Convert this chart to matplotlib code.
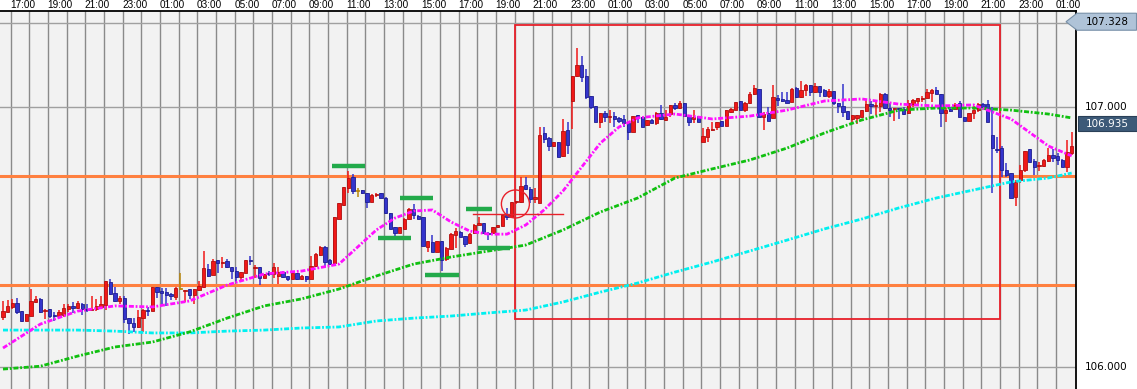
import matplotlib
matplotlib.use("Agg")
import matplotlib.pyplot as plt
from matplotlib.patches import Rectangle, Ellipse, Polygon
from matplotlib.transforms import blended_transform_factory
import numpy as np

# ---------------- data (15-minute candles) ----------------
opens = [106.194,106.213,106.232,106.246,106.214,106.178,106.197,106.251,106.262,106.217,
         106.223,106.196,106.197,106.201,106.223,106.235,106.228,106.242,106.223,106.218,
         106.223,106.232,106.238,106.326,106.283,106.254,106.264,106.187,106.168,106.155,
         106.187,106.218,106.217,106.309,106.292,106.287,106.281,106.271,106.299,106.291,
         106.299,106.278,106.296,106.309,106.377,106.355,106.412,106.399,106.406,106.386,
         106.371,106.347,106.363,106.410,106.380,106.383,106.344,106.360,106.356,106.351,
         106.367,106.350,106.340,106.360,106.340,106.350,106.340,106.388,106.431,106.462,
         106.412,106.399,106.570,106.623,106.688,106.732,106.678,106.681,106.668,106.636,
         106.662,106.668,106.651,106.591,106.538,106.517,106.532,106.568,106.606,106.582,
         106.577,106.462,106.481,106.444,106.486,106.414,106.455,106.509,106.518,106.504,
         106.477,106.514,106.545,106.555,106.517,106.517,106.537,106.542,106.585,106.578,
         106.633,106.636,106.700,106.685,106.647,106.630,106.899,106.879,106.851,106.865,
         106.813,106.911,107.024,107.120,107.161,107.119,107.042,107.004,106.944,106.976,
         106.962,106.964,106.958,106.953,106.937,106.905,106.968,106.963,106.930,106.950,
         106.940,106.976,106.950,106.973,107.006,106.996,107.014,106.965,106.953,106.960,
         106.867,106.883,106.913,106.924,106.946,106.928,106.981,106.987,107.023,106.988,
         107.017,107.049,107.068,106.960,106.976,106.959,107.035,107.031,107.027,107.020,
         107.072,107.037,107.065,107.085,107.059,107.081,107.065,107.042,107.062,107.017,
         107.004,106.983,106.955,106.958,106.963,106.986,107.012,107.004,107.005,107.050,
         106.997,106.991,106.995,106.992,106.976,107.012,107.024,107.032,107.036,107.055,
         107.065,107.050,106.978,106.991,106.991,107.014,106.963,106.947,106.976,106.988,
         107.010,107.010,106.892,106.838,106.841,106.758,106.745,106.655,106.719,106.758,
         106.838,106.794,106.772,106.774,106.794,106.815,106.812,106.796,106.771,106.822]
highs = [106.254,106.258,106.262,106.265,106.214,106.204,106.300,106.274,106.265,106.223,
         106.223,106.213,106.219,106.241,106.242,106.251,106.254,106.245,106.244,106.273,
         106.262,106.273,106.330,106.340,106.306,106.274,106.274,106.187,106.187,106.219,
         106.222,106.232,106.309,106.309,106.305,106.305,106.283,106.309,106.362,106.296,
         106.299,106.299,106.331,106.447,106.396,106.414,106.412,106.424,106.414,106.386,
         106.383,106.367,106.412,106.427,106.392,106.383,106.356,106.371,106.399,106.386,
         106.369,106.350,106.365,106.362,106.354,106.350,106.428,106.437,106.465,106.465,
         106.414,106.577,106.631,106.694,106.755,106.742,106.687,106.681,106.668,106.665,
         106.668,106.670,106.652,106.591,106.538,106.537,106.573,106.610,106.627,106.583,
         106.577,106.483,106.508,106.486,106.486,106.461,106.515,106.533,106.525,106.504,
         106.515,106.550,106.578,106.555,106.519,106.537,106.545,106.585,106.610,106.633,
         106.640,106.732,106.732,106.694,106.687,106.922,106.922,106.886,106.866,106.866,
         106.954,106.944,107.119,107.226,107.196,107.145,107.042,107.004,106.978,106.985,
         106.989,106.982,106.960,106.969,106.937,106.967,106.968,106.963,106.950,106.953,
         106.979,107.006,106.989,107.006,107.017,107.023,107.017,106.965,106.989,106.965,
         106.919,106.924,106.942,106.944,106.946,106.989,106.995,107.020,107.023,107.019,
         107.058,107.085,107.068,106.982,107.001,107.085,107.046,107.059,107.059,107.072,
         107.078,107.101,107.088,107.085,107.091,107.081,107.069,107.069,107.062,107.017,
         107.088,106.983,106.971,106.969,106.988,107.030,107.024,107.027,107.053,107.053,
         107.014,106.995,106.995,106.999,107.027,107.030,107.035,107.042,107.071,107.068,
         107.076,107.050,106.995,107.001,107.014,107.023,106.963,106.976,107.004,107.014,
         107.014,107.027,107.000,106.886,106.850,106.783,106.745,106.719,106.777,106.831,
         106.838,106.799,106.790,106.799,106.844,106.838,106.822,106.799,106.873,106.905]
lows = [106.181,106.206,106.222,106.204,106.174,106.178,106.197,106.245,106.208,106.186,
        106.190,106.178,106.190,106.194,106.213,106.206,106.223,106.201,106.213,106.215,
        106.215,106.226,106.219,106.276,106.251,106.241,106.168,106.126,106.133,106.149,
        106.136,106.197,106.217,106.267,106.238,106.236,106.258,106.258,106.296,106.251,
        106.263,106.242,106.294,106.305,106.347,106.354,106.363,106.380,106.380,106.338,
        106.326,106.335,106.360,106.392,106.341,106.315,106.341,106.351,106.341,106.319,
        106.343,106.332,106.338,106.335,106.335,106.328,106.337,106.385,106.428,106.386,
        106.394,106.397,106.568,106.620,106.668,106.665,106.653,106.667,106.613,106.633,
        106.653,106.650,106.590,106.530,106.501,106.514,106.530,106.565,106.568,106.570,
        106.465,106.444,106.444,106.444,106.370,106.409,106.453,106.456,106.499,106.463,
        106.475,106.512,106.545,106.515,106.488,106.514,106.535,106.541,106.565,106.576,
        106.628,106.630,106.681,106.632,106.629,106.630,106.860,106.832,106.848,106.808,
        106.809,106.819,106.917,107.117,107.097,107.029,106.994,106.941,106.919,106.944,
        106.940,106.924,106.937,106.924,106.873,106.905,106.940,106.922,106.928,106.938,
        106.931,106.950,106.947,106.960,106.989,106.994,106.960,106.928,106.940,106.941,
        106.867,106.867,106.909,106.910,106.928,106.928,106.976,106.987,106.988,106.982,
        107.012,107.046,106.960,106.911,106.947,106.956,107.004,107.018,107.014,107.020,
        107.036,107.033,107.042,107.042,107.053,107.040,107.042,107.033,107.008,106.978,
        106.963,106.950,106.937,106.935,106.963,106.982,106.972,106.969,106.982,106.991,
        106.960,106.947,106.953,106.969,106.973,107.001,107.008,107.019,107.033,107.021,
        107.050,106.924,106.944,106.982,106.988,106.960,106.947,106.947,106.953,106.982,
        106.995,106.944,106.671,106.824,106.732,106.730,106.649,106.621,106.706,106.751,
        106.783,106.739,106.755,106.771,106.790,106.790,106.777,106.768,106.751,106.815]
closes = [106.214,106.235,106.246,106.212,106.178,106.204,106.254,106.262,106.212,106.221,
          106.197,106.195,106.210,106.226,106.235,106.227,106.245,106.223,106.219,106.222,
          106.233,106.244,106.330,106.281,106.255,106.264,106.183,106.168,106.155,106.191,
          106.219,106.214,106.309,106.290,106.286,106.277,106.274,106.303,106.299,106.296,
          106.278,106.299,106.310,106.381,106.350,106.406,106.399,106.403,106.386,106.371,
          106.347,106.367,106.412,106.408,106.386,106.341,106.356,106.356,106.385,106.367,
          106.347,106.340,106.363,106.340,106.350,106.340,106.390,106.435,106.462,106.405,
          106.396,106.577,106.631,106.692,106.728,106.678,106.678,106.668,106.636,106.662,
          106.665,106.651,106.591,106.532,106.517,106.537,106.569,106.606,106.585,106.570,
          106.467,106.483,106.444,106.486,106.412,106.459,106.512,106.523,106.499,106.474,
          106.512,106.547,106.555,106.517,106.513,106.537,106.545,106.585,106.578,106.633,
          106.638,106.697,106.683,106.645,106.654,106.891,106.878,106.851,106.864,106.809,
          106.908,106.855,107.119,107.161,107.117,107.040,107.001,106.944,106.976,106.963,
          106.964,106.953,106.947,106.937,106.905,106.965,106.960,106.924,106.950,106.940,
          106.976,106.953,106.960,107.006,106.996,107.014,106.965,106.941,106.963,106.944,
          106.888,106.915,106.915,106.941,106.928,106.989,106.992,107.020,106.988,107.015,
          107.049,107.072,106.960,106.973,106.947,107.037,107.028,107.024,107.017,107.069,
          107.040,107.065,107.085,107.059,107.082,107.059,107.042,107.063,107.014,107.005,
          106.982,106.955,106.968,106.969,106.988,107.012,107.004,107.008,107.050,106.995,
          106.988,106.995,106.991,106.973,107.014,107.027,107.035,107.035,107.058,107.065,
          107.050,106.976,106.988,106.986,107.009,106.963,106.947,106.976,106.988,107.010,
          106.999,106.944,106.841,106.836,106.758,106.739,106.651,106.713,106.758,106.831,
          106.790,106.771,106.774,106.796,106.815,106.805,106.796,106.771,106.826,106.850]

# moving averages sampled at bar indices
ma_fast_idx = [0, 8, 16, 24, 32, 40, 48, 56, 64, 72, 80, 84, 88, 92, 96, 100, 104, 108,
               112, 116, 120, 124, 128, 132, 136, 144, 152, 160, 168, 176, 184, 192, 200,
               208, 216, 224, 229]
ma_fast = [106.073, 106.165, 106.215, 106.235, 106.231, 106.254, 106.315, 106.358, 106.369,
           106.396, 106.527, 106.573, 106.600, 106.604, 106.558, 106.523, 106.511, 106.511,
           106.546, 106.605, 106.677, 106.769, 106.861, 106.923, 106.958, 106.973, 106.954,
           106.965, 106.988, 107.023, 107.031, 107.011, 107.004, 107.008, 106.954, 106.850,
           106.812]
ma_slow_idx = [0, 8, 16, 24, 32, 40, 48, 56, 64, 72, 80, 88, 96, 104, 112, 120, 128, 136,
               144, 152, 160, 168, 176, 184, 192, 200, 208, 216, 224, 229]
ma_mid = [105.992, 106.003, 106.042, 106.077, 106.096, 106.135, 106.188, 106.235, 106.262,
          106.300, 106.350, 106.396, 106.423, 106.446, 106.469, 106.527, 106.596, 106.650,
          106.727, 106.762, 106.796, 106.842, 106.900, 106.950, 106.988, 106.996, 106.996,
          106.988, 106.973, 106.958]
ma_long = [106.142, 106.142, 106.142, 106.138, 106.131, 106.131, 106.138, 106.142, 106.150,
           106.154, 106.177, 106.188, 106.196, 106.208, 106.219, 106.250, 106.288, 106.323,
           106.365, 106.404, 106.446, 106.488, 106.531, 106.569, 106.612, 106.650, 106.681,
           106.712, 106.727, 106.746]

time_labels = ["17:00", "19:00", "21:00", "23:00", "01:00", "03:00", "05:00", "07:00",
               "09:00", "11:00", "13:00", "15:00", "17:00", "19:00", "21:00", "23:00",
               "01:00", "03:00", "05:00", "07:00", "09:00", "11:00", "13:00", "15:00",
               "17:00", "19:00", "21:00", "23:00", "01:00"]

# annotations
orange_levels = [106.735, 106.315]
green_marks_x0 = [70.6, 85.1, 80.4, 99.3, 101.7, 90.5]
green_marks_x1 = [77.6, 92.2, 87.5, 104.7, 108.7, 97.8]
green_marks_y = [106.773, 106.649, 106.495, 106.607, 106.456, 106.353]
box_x = [109.65, 213.65]
box_y = [106.185, 107.315]
circle_center = (109.8, 106.627)
red_line_x = [100.8, 120.1]
red_line_y = 106.588
price_grid = [107.323, 107.000, 106.000]
price_labels = ["107.000", "106.000"]
price_label_vals = [107.000, 106.000]
box_label_hi = 107.328
box_label_cur = 106.935

# ---------------- figure ----------------
W, H = 1137, 389
fig = plt.figure(figsize=(W / 100, H / 100), dpi=100, facecolor="white")
plot_right = 1076
plot_top = 11
ax = fig.add_axes([0, 0, plot_right / W, (H - plot_top) / H])
ax.set_facecolor("#F2F2F2")

px_per_bar = 14 / 3.0
ax.set_xlim(-3 / px_per_bar, (plot_right - 3) / px_per_bar)
ymin = 107.41154 - H / 260.0
ymax = 107.41154 - plot_top / 260.0
ax.set_ylim(ymin, ymax)

for s in ["left", "bottom"]:
    ax.spines[s].set_visible(False)
for s in ["top", "right"]:
    ax.spines[s].set_color("black")
    ax.spines[s].set_linewidth(1.3)
ax.set_xticks([])
ax.set_yticks([])

# vertical grid (one per hour)
n_grid = 57
grid_k = [1.65 + 4 * j for j in range(n_grid)]
for j, gk in enumerate(grid_k):
    ax.axvline(gk, color="#8A8A8A", lw=1.0, zorder=1)
for pg in price_grid:
    ax.axhline(pg, color="#A0A0A0", lw=1.0, zorder=1)

# orange levels
for lv in orange_levels:
    ax.axhline(lv, color="#FF8040", lw=2.2, zorder=2)

# red box
ax.add_patch(Rectangle((box_x[0], box_y[0]), box_x[1] - box_x[0], box_y[1] - box_y[0],
                       fill=False, edgecolor="#E8202A", lw=1.3, zorder=3))

# candles
o = np.array(opens); h = np.array(highs); l = np.array(lows); c = np.array(closes)
x = np.arange(len(o))
RED, BLUE, DOJI = "#F01818", "#3434CC", "#B8860B"
cols = np.where(c > o, RED, np.where(c < o, BLUE, DOJI))
edges = np.where(c > o, "#B01010", np.where(c < o, "#1E1E90", DOJI))
ax.vlines(x, l, h, colors=cols, lw=1.1, zorder=4)
body = np.maximum(np.abs(c - o), 0.004)
ax.bar(x, body, bottom=np.minimum(o, c), width=0.66, color=cols, edgecolor=edges,
       lw=0.6, zorder=5)

# moving averages
plt.rcParams["lines.scale_dashes"] = False
dash = (0, (3.6, 1.3, 1.3, 1.3))
ax.plot(ma_slow_idx, ma_long, color="#00F0F0", lw=2.0, ls=dash, zorder=6)
ax.plot(ma_slow_idx, ma_mid, color="#10C010", lw=2.0, ls=dash, zorder=6)
ax.plot(ma_fast_idx, ma_fast, color="#FF10FF", lw=2.0, ls=dash, zorder=6)

# green marks
for x0, x1, yv in zip(green_marks_x0, green_marks_x1, green_marks_y):
    ax.plot([x0, x1], [yv, yv], color="#22AA4A", lw=3.2, solid_capstyle="butt", zorder=7)

# red circle and line
ax.add_patch(Ellipse(circle_center, 28 / px_per_bar, 28 / 260.0, fill=False,
                     edgecolor="#E8202A", lw=1.0, zorder=8))
ax.plot(red_line_x, [red_line_y, red_line_y], color="#E8202A", lw=1.0, zorder=8)

# time labels
tr = blended_transform_factory(ax.transData, ax.transAxes)
for j, lab in enumerate(time_labels):
    ax.text(grid_k[2 * j] - 0.1, 1 + 5.5 / (H - plot_top), lab, transform=tr,
            ha="left", va="center", fontsize=7.2,
            family=["Liberation Sans Narrow", "Liberation Sans"], clip_on=False)

# right price labels
def fy(p):
    return (p - ymin) / (ymax - ymin) * (H - plot_top) / H

for lab, v in zip(price_labels, price_label_vals):
    fig.text(1085 / W, fy(v), lab, ha="left", va="center", fontsize=7.5, family="DejaVu Sans")

yh = fy(box_label_hi)
hh = 8.5 / H
poly = Polygon([(1066 / W, yh), (1077 / W, yh + hh), (1 - 0.5 / W, yh + hh),
                (1 - 0.5 / W, yh - hh), (1077 / W, yh - hh)], closed=True,
               transform=fig.transFigure, facecolor="#AFC3D8", edgecolor="#7890A8", lw=0.8)
fig.patches.append(poly)
fig.text(1107 / W, yh, "%.3f" % box_label_hi, ha="center", va="center", fontsize=7.5,
         family="DejaVu Sans", color="black")

yc = fy(box_label_cur)
rect = Rectangle((1078 / W, yc - 7.5 / H), (W - 1078) / W, 15 / H, transform=fig.transFigure,
                 facecolor="#3D5A78", edgecolor="#2A4058", lw=0.8)
fig.patches.append(rect)
fig.text(1107 / W, yc, "%.3f" % box_label_cur, ha="center", va="center", fontsize=7.5,
         family="DejaVu Sans", color="white")

fig.savefig("out.png", dpi=100, facecolor="white")
